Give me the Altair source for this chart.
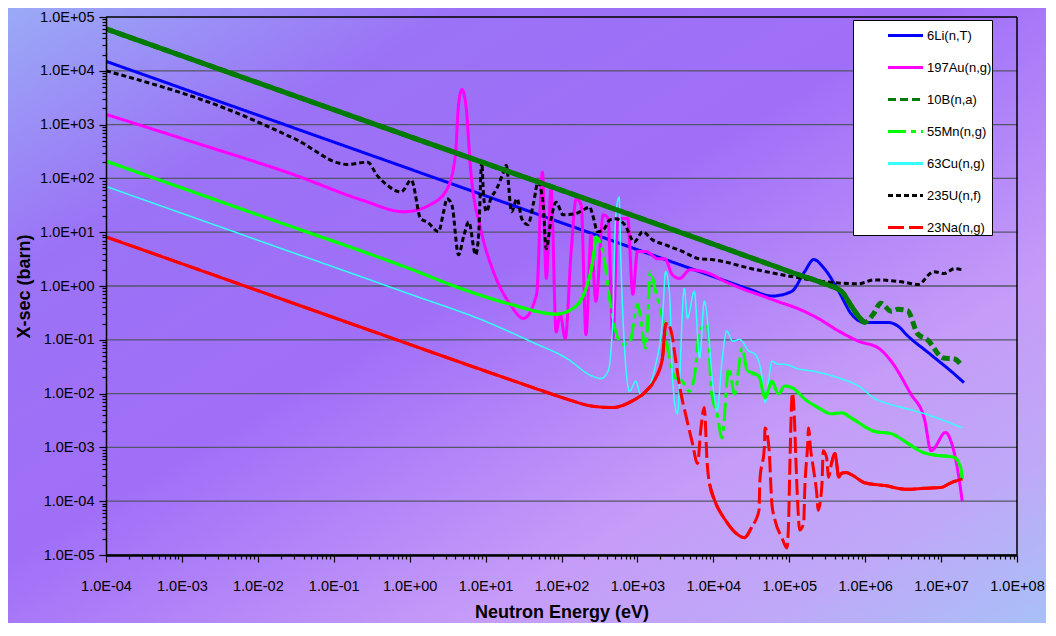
import altair as alt
import pandas as pd

# ---------------- data ----------------
series_names = ["6Li(n,T)", "197Au(n,g)", "10B(n,a)", "55Mn(n,g)", "63Cu(n,g)", "235U(n,f)", "23Na(n,g)"]
series_colors = ["#0000FF", "#FF00FF", "#007A00", "#00FF00", "#33FFFF", "#000000", "#FF0000"]

li6_E = [1e-4, 1e-2, 1, 100, 1e4, 3e4, 5.9e4, 1.07e5, 1.6e5, 2.1e5, 2.9e5, 4.5e5, 6.6e5, 9.8e5,
         2e6, 2.7e6, 3.6e6, 7.2e6, 1.5e7, 2e7]
li6_S = [1.5e4, 1500, 150, 15, 1.5, 0.87, 0.65, 0.79, 1.86, 3.1, 2.1, 0.79, 0.30, 0.21,
         0.21, 0.18, 0.12, 0.054, 0.023, 0.016]

au_E = [1e-4, 1.5e-3, 3.1e-2, 0.23, 0.85, 1.9, 3.1, 4.0, 4.4, 4.9, 5.5, 6.4, 8.6, 12.6, 21, 31.6, 47,
        56, 63, 73, 85, 96, 112, 134, 156, 182, 210, 245, 283, 355, 410, 475, 550, 745, 870, 1000,
        1290, 1860, 2300, 2900, 3600, 4900, 8900, 1.45e4, 2.4e4, 4.0e4, 7.2e4, 1.3e5, 2.4e5, 4.5e5,
        8.2e5, 1.5e6, 2.2e6, 4.0e6, 6.0e6, 7.4e6, 1.15e7, 1.35e7, 1.66e7, 1.9e7]
au_S = [1550, 460, 115, 40, 24, 33, 63, 270, 2300, 4500, 2300, 130, 11.6, 1.9, 0.46, 0.25, 0.70,
        130, 1.38, 63, 0.14, 0.30, 0.107, 4.4, 42, 32, 0.126, 8.9, 0.52, 21, 18, 0.107, 18, 18, 0.70, 4.4,
        4.4, 3.2, 3.2, 1.6, 1.38, 2.0, 1.7, 1.2, 0.89, 0.69, 0.51, 0.38, 0.25, 0.145,
        0.094, 0.070, 0.040, 0.0098, 0.0035, 8.7e-4, 1.9e-3, 1.3e-3, 3.7e-4, 1.0e-4]

b10_E = [1e-4, 1, 1e4, 1.07e5, 2.9e5, 4.9e5, 6.6e5, 8.2e5, 9.8e5, 1.3e6, 1.6e6, 2.2e6, 2.7e6, 3.6e6,
         4.9e6, 6.6e6, 1.07e7, 1.5e7, 1.9e7]
b10_S = [6.0e4, 600, 6.0, 1.8, 1.1, 0.79, 0.42, 0.27, 0.21, 0.31, 0.48, 0.34, 0.37, 0.35,
         0.13, 0.10, 0.046, 0.044, 0.032]

mn_E = [1e-4, 1e-2, 1, 4.7, 21, 85, 141, 210, 257, 283, 330, 370, 435, 515, 640, 790, 1000, 1290,
        1480, 1740, 2140, 2750, 3160, 3900, 4800, 5600, 6600, 8300, 9500, 1.12e4, 1.3e4, 1.6e4,
        1.9e4, 2.4e4, 2.8e4, 4.0e4, 4.8e4, 5.9e4, 7.2e4, 8.7e4, 1.15e5, 1.6e5, 2.4e5, 3.6e5, 4.9e5,
        6.6e5, 1.3e6, 2.2e6, 3.6e6, 6.0e6, 9.1e6, 1.5e7, 1.8e7, 1.9e7]
mn_S = [210, 21, 2.1, 0.90, 0.46, 0.30, 0.38, 0.90, 2.8, 8.2, 5.8, 2.8, 0.52, 0.145, 0.083, 0.087,
        0.46, 0.070, 1.85, 0.79, 0.25, 0.035, 0.0195, 0.017, 0.011, 0.0195, 0.145, 0.195, 0.0098,
        0.0042, 0.0015, 0.030, 0.0098, 0.070, 0.026, 0.021, 0.0083, 0.017, 0.0098, 0.0138, 0.0123,
        0.0079, 0.0055, 0.0042, 0.0044, 0.0035, 0.0020, 0.0018, 0.0012, 7.9e-4, 7.1e-4, 6.5e-4,
        4.3e-4, 2.6e-4]

cu_E = [1e-4, 1e-2, 1, 10, 43, 115, 257, 330, 410, 475, 515, 575, 600, 680, 790, 950, 1100, 1290,
        1700, 2140, 2350, 2650, 2900, 3350, 4150, 4570, 5600, 6600, 7600, 1.02e4, 1.12e4, 1.3e4,
        1.5e4, 1.8e4, 2.2e4, 2.95e4, 3.55e4, 4.4e4, 4.8e4, 5.4e4, 5.9e4, 7.2e4, 8.7e4, 1.3e5, 2.1e5,
        4.5e5, 8.2e5, 1.3e6, 2.0e6, 3.6e6, 7.2e6, 1.9e7]
cu_S = [71, 7.1, 0.71, 0.22, 0.088, 0.046, 0.021, 0.019, 0.026, 0.25, 17.7, 45, 4.4, 0.062, 0.011,
        0.017, 0.0098, 0.011, 0.030, 0.25, 1.85, 0.70, 0.0195, 0.0042, 0.90, 0.25, 0.79, 0.046, 0.52,
        0.0098, 0.0048, 0.040, 0.145, 0.094, 0.102, 0.062, 0.054, 0.0195, 0.0068, 0.0195, 0.040,
        0.035, 0.035, 0.029, 0.026, 0.0195, 0.0138, 0.0083, 0.0065, 0.0052, 0.0039, 0.0023]

u_E = [1e-4, 4.1e-3, 0.031, 0.15, 0.28, 0.37, 0.50, 0.77, 1.05, 1.4, 1.7, 2.4, 2.8, 3.1, 3.6, 4.4,
       5.2, 6.0, 7.4, 8.1, 8.9, 9.4, 10.3, 11.7, 13.9, 17.2, 18.7, 22, 26, 30, 36, 43, 49, 57, 63, 73,
       85, 105, 150, 204, 235, 257, 300, 355, 435, 515, 680, 910, 1170, 1580, 2350, 3900, 6600, 9500,
       3.2e4, 1.07e5, 2.9e5, 8.2e5, 1.3e6, 3.0e6, 5.1e6, 6.8e6, 8.0e6, 1.1e7, 1.5e7, 1.9e7]
u_S = [1.0e4, 1900, 540, 182, 200, 115, 76, 56, 93, 17.7, 15.5, 10.2, 24, 42, 32, 3.8,
       8.9, 15.5, 3.8, 8.9, 200, 49, 24, 42, 63, 130, 176, 24, 42, 17.7, 13.8, 36, 85, 36, 4.9, 17.7,
       36, 21, 22, 27, 29.5, 21, 10.2, 11, 17, 17.7, 13.8, 6.6, 10.2, 7.2, 5.8, 4.4, 3.2, 3.1,
       2.1, 1.5, 1.2, 1.1, 1.3, 1.2, 1.07, 1.6, 1.85, 1.7, 2.1, 2.0]

na_E = [1e-4, 1e-2, 1, 43, 115, 257, 475, 870, 1290, 1740, 2140, 2350, 2500, 2900, 3160, 3700, 4300,
        5300, 6200, 6800, 7600, 8300, 8900, 1.05e4, 1.45e4, 1.95e4, 2.55e4, 3.2e4, 4.0e4, 4.1e4,
        4.7e4, 4.8e4, 5.4e4, 5.9e4, 6.5e4, 8.0e4, 9.3e4, 9.8e4, 1.02e5, 1.1e5, 1.17e5, 1.22e5,
        1.3e5, 1.37e5, 1.55e5, 1.6e5, 1.74e5, 1.8e5, 1.9e5, 2.1e5, 2.3e5, 2.4e5, 2.7e5, 2.8e5,
        3.1e5, 3.3e5, 3.6e5, 4.0e5, 4.5e5, 4.9e5, 5.6e5, 6.9e5, 9.8e5, 1.8e6, 3.6e6, 6.0e6, 1.0e7,
        1.35e7, 1.9e7]
na_S = [8.2, 0.82, 0.082, 0.0128, 0.0080, 0.0058, 0.0055, 0.0074, 0.011, 0.0195, 0.046, 0.195, 0.20,
        0.107, 0.046, 0.011, 0.0042, 0.0012, 5.0e-4, 0.0020, 0.0055, 5.0e-4, 2.1e-4, 1.0e-4, 4.4e-5,
        2.6e-5, 2.1e-5, 3.3e-5, 6.8e-5, 2.4e-4, 1.0e-3, 2.3e-3, 1.0e-3, 9.1e-5, 4.4e-5, 2.1e-5,
        1.35e-5, 3.9e-5, 5.0e-4, 0.0103, 0.0035, 6.5e-4, 7.7e-5, 2.9e-5, 3.9e-5, 1.6e-4, 1.0e-3,
        2.3e-3, 1.0e-3, 3.7e-4, 1.4e-4, 6.8e-5, 2.1e-4, 8.7e-4, 6.5e-4, 2.8e-4, 5.0e-4, 7.7e-4,
        2.8e-4, 3.3e-4, 3.4e-4, 3.0e-4, 2.2e-4, 1.95e-4, 1.66e-4, 1.74e-4, 1.8e-4, 2.2e-4, 2.6e-4]

x_ticks = [m * 10.0 ** p for p in range(-4, 8) for m in range(1, 10)] + [1e8]
y_ticks = [m * 10.0 ** p for p in range(-5, 5) for m in range(1, 10)] + [1e5]
y_major = [10.0 ** p for p in range(-5, 6)]
x_right = [1e8]

# ---------------- styling ----------------
series_dashes = [[1, 0], [1, 0], [8, 4], [18, 5, 5, 5], [1, 0], [5, 3], [16, 5]]
series_widths = [3, 3, 5, 3, 1.5, 3, 3]
# energy ranges where the reference draws the dashed series as a continuous stroke
solid_ranges = {
    "10B(n,a)": [(1e-4, 9.8e5)],
    "55Mn(n,g)": [(1e-4, 283), (2.8e4, 2e7)],
    "23Na(n,g)": [(1e-4, 2500), (8900, 3.2e4), (3.6e5, 2e7)],
}

# ---------------- build table ----------------
all_E = [li6_E, au_E, b10_E, mn_E, cu_E, u_E, na_E]
all_S = [li6_S, au_S, b10_S, mn_S, cu_S, u_S, na_S]
rows = []
for name, Es, Ss, w in zip(series_names, all_E, all_S, series_widths):
    for i, (e, s) in enumerate(zip(Es, Ss)):
        seg = ""
        for j, (lo, hi) in enumerate(solid_ranges.get(name, [])):
            if lo <= e <= hi:
                seg = f"{name}#{j}"
        rows.append({"series": name, "E": e, "S": s, "i": i, "w": w, "seg": seg})
df = pd.DataFrame(rows)

W, H = 911, 538
PAD = {"left": 98, "top": 9, "right": 29, "bottom": 68}
FONT = "Liberation Sans, Arial, sans-serif"

xs = alt.Scale(type="log", domain=[1e-4, 1e8], nice=False)
ys = alt.Scale(type="log", domain=[1e-5, 1e5], nice=False)

LOG = "(log(datum.value)/LN10)"
major_test = f"abs({LOG} - round({LOG})) < 0.001"
label_expr = (f"({major_test}) ? ('1.0E' + (round({LOG}) < 0 ? '-' : '+') + "
              f"(abs(round({LOG})) < 10 ? '0' : '') + abs(round({LOG}))) : ''")

common_axis = dict(
    labelExpr=label_expr, labelFont=FONT, labelFontSize=14.5, labelColor="black",
    labelOverlap=False, labelFlush=False,
    tickColor="black", tickWidth=1.2,
    tickSize={"condition": {"test": major_test, "value": 7}, "value": 4},
    domainColor="black", grid=False, titleFont=FONT, titleFontSize=18,
    titleFontWeight="bold", titleColor="black", zindex=1,
)
xaxis = alt.Axis(values=x_ticks, title="Neutron Energy (eV)", labelPadding=17,
                 titlePadding=11, domainWidth=2.5, **common_axis)
yaxis = alt.Axis(values=y_ticks, title="X-sec (barn)", labelPadding=5,
                 titlePadding=6, domainWidth=1.5, **common_axis)

legend = alt.Legend(
    title=None, orient="none", legendX=747, legendY=3, fillColor="white",
    strokeColor="black", padding=0, symbolType="M-1.25,0H1.25", symbolSize=784,
    symbolOffset=37, symbolStrokeWidth=3, labelOffset=6, labelFont=FONT, labelFontSize=13,
    labelColor="black", rowPadding=9,
    labelExpr="datum.label + '\u00a0\u00a0\u00a0\u00a0\u00a0\u00a0\u00a0\u00a0\u00a0'",
)

gradient = alt.Gradient(
    gradient="linear", x1=0, y1=0, x2=1, y2=1,
    stops=[
        alt.GradientStop(offset=0.0, color="#9aaaf6"),
        alt.GradientStop(offset=0.22, color="#9b72f6"),
        alt.GradientStop(offset=0.45, color="#a06ff8"),
        alt.GradientStop(offset=0.72, color="#c59cf8"),
        alt.GradientStop(offset=0.86, color="#bfa8f8"),
        alt.GradientStop(offset=1.0, color="#a8c0f8"),
    ],
)

bg = alt.Chart(pd.DataFrame({"k": [0]})).mark_rect(fill=gradient, clip=False).encode(
    x=alt.value(-PAD["left"]), x2=alt.value(W + PAD["right"]),
    y=alt.value(-PAD["top"]), y2=alt.value(H + PAD["bottom"]),
)

grid = alt.Chart(pd.DataFrame({"S": y_major})).mark_rule(strokeWidth=1.3).encode(
    y=alt.Y("S:Q", scale=ys, axis=yaxis),
    x=alt.value(0), x2=alt.value(W),
    color=alt.condition("datum.S >= 99999", alt.value("black"), alt.value("#55556a")),
)

right_border = alt.Chart(pd.DataFrame({"E": x_right})).mark_rule(strokeWidth=1.5, color="black").encode(
    x=alt.X("E:Q", scale=xs, axis=xaxis), y=alt.value(0), y2=alt.value(H),
)

lines = alt.Chart(df).mark_line(interpolate="monotone", clip=True).encode(
    x=alt.X("E:Q", scale=xs, axis=xaxis),
    y=alt.Y("S:Q", scale=ys, axis=yaxis),
    color=alt.Color("series:N", scale=alt.Scale(domain=series_names, range=series_colors), legend=legend),
    strokeDash=alt.StrokeDash("series:N", scale=alt.Scale(domain=series_names, range=series_dashes),
                              legend=legend),
    strokeWidth=alt.StrokeWidth("w:Q", scale=None),
    order=alt.Order("i:Q"),
)

overlays = []
for name in solid_ranges:
    k = series_names.index(name)
    overlays.append(
        alt.Chart(df).transform_filter(f"datum.series == '{name}' && datum.seg != ''")
        .mark_line(interpolate="monotone", clip=True, color=series_colors[k],
                   strokeWidth=series_widths[k])
        .encode(x=alt.X("E:Q", scale=xs, axis=xaxis), y=alt.Y("S:Q", scale=ys, axis=yaxis),
                detail="seg:N", order=alt.Order("i:Q"))
    )

chart = alt.layer(bg, grid, right_border, lines, *overlays).properties(
    width=W, height=H,
    autosize=alt.AutoSizeParams(type="none"),
    padding=PAD,
).configure_view(stroke=None)

chart.save("out.html", embed_options={"renderer": "svg", "actions": False})
